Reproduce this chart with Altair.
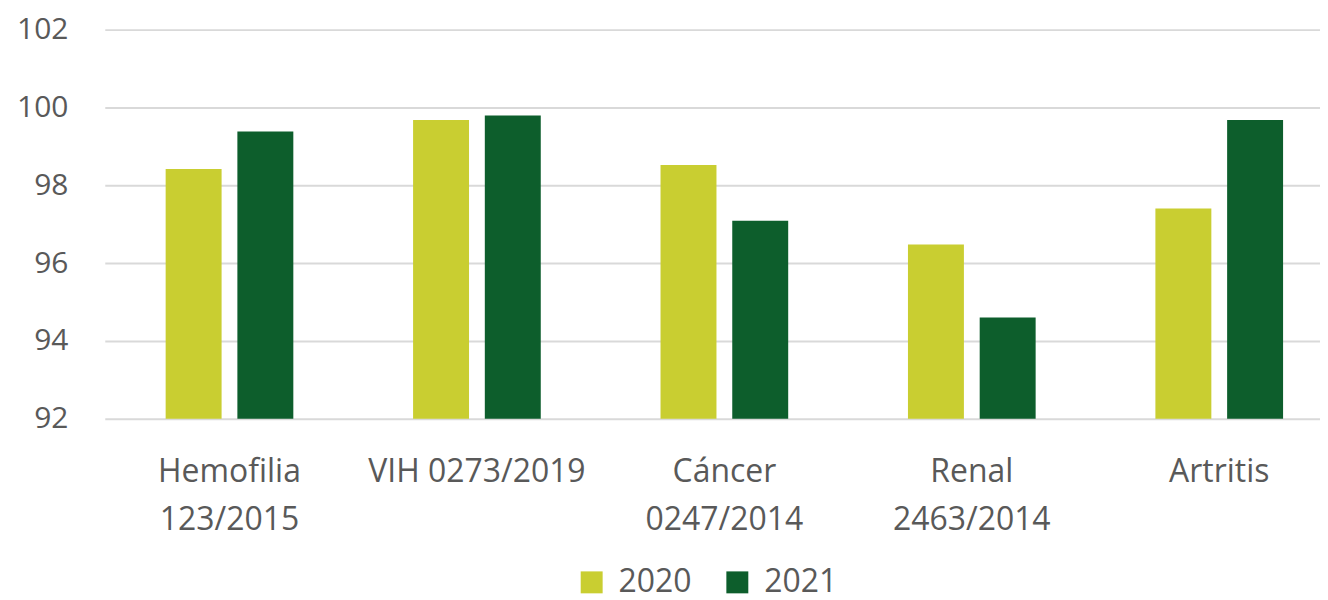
import altair as alt
import pandas as pd

categories = ["Hemofilia\n123/2015", "VIH 0273/2019", "Cáncer\n0247/2014", "Renal\n2463/2014", "Artritis"]
v2020 = [98.42, 99.68, 98.52, 96.48, 97.40]
v2021 = [99.38, 99.79, 97.09, 94.60, 99.68]
years = ["2020", "2021"]
colors = ["#C9CE31", "#0D5E2C"]

rows = []
for c, a, b in zip(categories, v2020, v2021):
    rows.append({"cat": c, "year": years[0], "value": a})
    rows.append({"cat": c, "year": years[1], "value": b})
df = pd.DataFrame(rows)

FONT = "Open Sans"
TXT = "#595959"
FS = 32

chart = alt.Chart(df).mark_bar().encode(
    x=alt.X("cat:N", sort=categories, title=None,
            scale=alt.Scale(range=[2, 1244], paddingInner=0.484, paddingOuter=0.246),
            axis=alt.Axis(labelAngle=0, domain=False, ticks=False, labelPadding=38,
                          labelExpr="split(datum.label, '\\n')", labelLineHeight=48,
                          labelFontSize=FS, labelColor=TXT, labelFont=FONT, labelLimit=0)),
    xOffset=alt.XOffset("year:N", sort=years, scale=alt.Scale(paddingInner=0.22, paddingOuter=0)),
    y=alt.Y("value:Q", title=None,
            scale=alt.Scale(domain=[92, 102], zero=False, nice=False),
            axis=alt.Axis(values=[92, 94, 96, 98, 100, 102], domain=False, ticks=False,
                          labelPadding=35, labelFontSize=30, labelColor=TXT, labelFont=FONT,
                          gridColor="#D9D9D9", gridWidth=2)),
    y2=alt.datum(92),
    color=alt.Color("year:N", sort=years, title=None,
                    scale=alt.Scale(domain=years, range=colors),
                    legend=alt.Legend(orient="none", direction="horizontal",
                                      legendX=474, legendY=538,
                                      symbolType="square", symbolSize=484,
                                      symbolStrokeWidth=0, labelFontSize=FS,
                                      labelColor=TXT, labelFont=FONT,
                                      columnPadding=29, labelOffset=11)),
).properties(
    width=1220, height=390,
    autosize=alt.AutoSizeParams(type="none"),
    padding={"left": 95, "top": 21, "right": 0, "bottom": 181},
).configure_view(stroke=None)

chart.save("out.html", embed_options={"renderer": "svg", "actions": False})
